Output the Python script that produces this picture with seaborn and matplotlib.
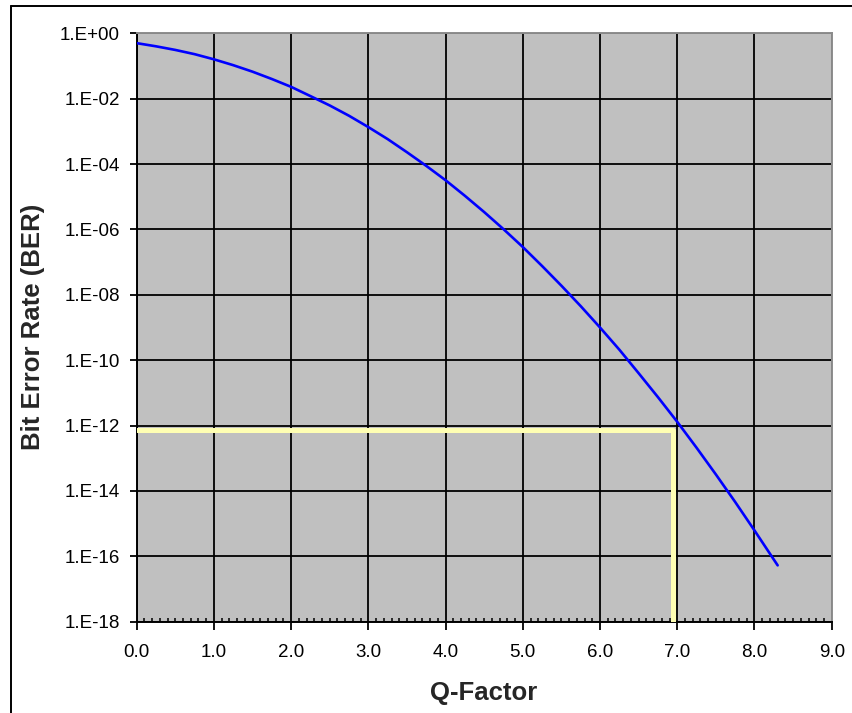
import numpy as np
import pandas as pd
import matplotlib
matplotlib.use("Agg")
import matplotlib.pyplot as plt
from matplotlib.lines import Line2D
from matplotlib.ticker import FixedLocator, MultipleLocator
import seaborn as sns

# BER curve (Q-factor vs bit error rate)
q_factor = [0.00, 0.25, 0.50, 0.75, 1.00, 1.25, 1.50, 1.75, 2.00, 2.25, 2.50, 2.75,
            3.00, 3.25, 3.50, 3.75, 4.00, 4.25, 4.50, 4.75, 5.00, 5.25, 5.50, 5.75,
            6.00, 6.25, 6.50, 6.75, 7.00, 7.25, 7.50, 7.75, 8.00, 8.30]
ber = [5.0e-01, 4.0e-01, 3.1e-01, 2.3e-01, 1.6e-01, 1.06e-01, 6.7e-02, 4.0e-02,
       2.3e-02, 1.2e-02, 6.2e-03, 3.0e-03, 1.35e-03, 5.8e-04, 2.3e-04, 8.8e-05,
       3.2e-05, 1.07e-05, 3.4e-06, 1.02e-06, 2.9e-07, 7.6e-08, 1.9e-08, 4.5e-09,
       1.0e-09, 2.1e-10, 4.0e-11, 7.4e-12, 1.3e-12, 2.1e-13, 3.2e-14, 4.6e-15,
       6.2e-16, 5.3e-17]

# yellow guide marking BER 1E-12 at Q ~ 7
guide_q = [0.0, 6.94, 6.94]
guide_ber = [7.5e-13, 7.5e-13, 1e-18]

x_ticks = [0, 1, 2, 3, 4, 5, 6, 7, 8, 9]
x_labels = ["0.0", "1.0", "2.0", "3.0", "4.0", "5.0", "6.0", "7.0", "8.0", "9.0"]
y_ticks = [1e0, 1e-2, 1e-4, 1e-6, 1e-8, 1e-10, 1e-12, 1e-14, 1e-16, 1e-18]
y_labels = ["1.E+00", "1.E-02", "1.E-04", "1.E-06", "1.E-08", "1.E-10",
            "1.E-12", "1.E-14", "1.E-16", "1.E-18"]

sns.set_style("ticks", rc={"axes.facecolor": "#C0C0C0", "grid.color": "black",
                           "axes.axisbelow": True})
plt.rcParams["font.family"] = ["Liberation Sans", "DejaVu Sans"]

curve = pd.DataFrame({"Q": q_factor, "BER": ber})
guide = pd.DataFrame({"Q": guide_q, "BER": guide_ber})

fig = plt.figure(figsize=(8.52, 7.13), dpi=100)
ax = fig.add_axes([0.1604, 0.128, 0.8158, 0.8253])
ax.set_yscale("log")

sns.lineplot(data=guide, x="Q", y="BER", sort=False, estimator=None,
             color="#FFFFB3", lw=3.6, ax=ax, zorder=3)
sns.lineplot(data=curve, x="Q", y="BER", color="#0000FF", lw=1.9, ax=ax, zorder=4)

ax.set_xlim(0, 9)
ax.set_ylim(1e-18, 1e0)
ax.xaxis.set_major_locator(FixedLocator(x_ticks))
ax.set_xticklabels(x_labels)
ax.xaxis.set_minor_locator(MultipleLocator(0.1))
ax.yaxis.set_major_locator(FixedLocator(y_ticks))
ax.set_yticklabels(y_labels)
ax.yaxis.set_minor_locator(FixedLocator([]))

ax.grid(True, which="major", color="black", lw=1.3)
ax.tick_params(axis="x", which="major", direction="out", length=6, width=1.3,
               labelsize=13.5, pad=10, colors="black")
ax.tick_params(axis="x", which="minor", direction="in", length=3, width=1.1,
               colors="black")
ax.tick_params(axis="y", which="major", direction="out", length=5, width=1.3,
               labelsize=13.5, pad=7, colors="black")

for side in ["left", "bottom"]:
    ax.spines[side].set_color("black")
    ax.spines[side].set_linewidth(1.4)
for side in ["top", "right"]:
    ax.spines[side].set_visible(True)
    ax.spines[side].set_color("#8C8C8C")
    ax.spines[side].set_linewidth(1.4)

ax.set_xlabel("")
ax.set_ylabel("")
fig.text(484 / 852, 1 - 693 / 713, "Q-Factor", ha="center", va="center",
         fontsize=18.5, fontweight="bold")
fig.text(33 / 852, 1 - 327 / 713, "Bit Error Rate (BER)", ha="center", va="center",
         rotation=90, fontsize=18.5, fontweight="bold")

# outer chart frame (only top and left edges are visible in the original)
fig.add_artist(Line2D([10.5 / 852, 1], [1 - 5.5 / 713, 1 - 5.5 / 713],
                      color="black", lw=1.4, transform=fig.transFigure))
fig.add_artist(Line2D([10.5 / 852, 10.5 / 852], [0, 1 - 5.5 / 713],
                      color="black", lw=1.4, transform=fig.transFigure))

fig.savefig("out.png", dpi=100)
